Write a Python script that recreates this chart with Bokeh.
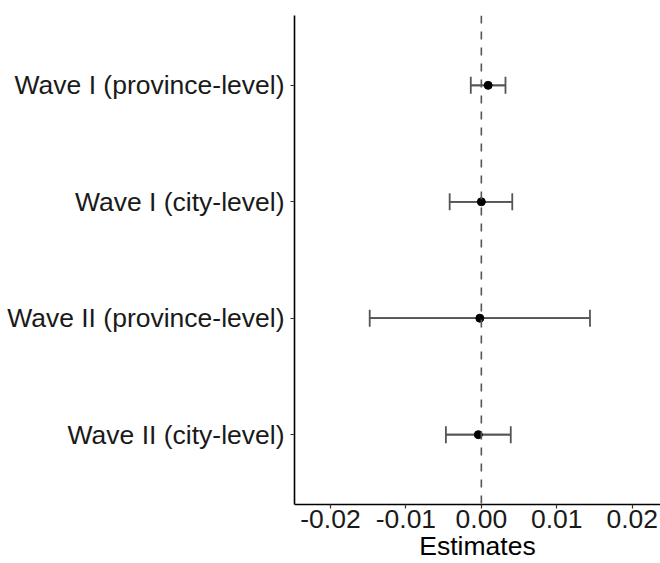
from bokeh.plotting import figure
from bokeh.models import FactorRange, Range1d, Span, FixedTicker, Whisker, ColumnDataSource, TeeHead, NumeralTickFormatter
from bokeh.embed import file_html
from bokeh.resources import INLINE

labels = ["Wave I (province-level)", "Wave I (city-level)",
          "Wave II (province-level)", "Wave II (city-level)"]
estimates = [0.0009, 0.0000, -0.0002, -0.0004]
lower = [-0.0014, -0.0042, -0.0148, -0.0047]
upper = [0.0032, 0.0041, 0.0144, 0.0039]
x_ticks = [-0.02, -0.01, 0.0, 0.01, 0.02]

src = ColumnDataSource(dict(label=labels, est=estimates, lower=lower, upper=upper))

FONT = "Liberation Sans"
GRAY = "#555555"

p = figure(width=660, height=563, output_backend="svg", toolbar_location=None,
           y_range=FactorRange(factors=labels[::-1], range_padding=0.1, range_padding_units="absolute"),
           x_range=Range1d(-0.02477, 0.02375),
           min_border_left=294, min_border_top=15, min_border_right=0, min_border_bottom=56)

p.outline_line_color = None
p.xgrid.visible = False
p.ygrid.visible = False
p.background_fill_color = "white"
p.border_fill_color = "white"

p.add_layout(Span(location=0, dimension="height", line_color=GRAY, line_width=1.6, line_dash="8 8"))

p.segment(x0="lower", y0="label", x1="upper", y1="label", source=src, line_color=GRAY, line_width=1.8)
w = Whisker(base="label", lower="lower", upper="upper", dimension="width", source=src,
            line_color=GRAY, line_width=1.8,
            upper_head=TeeHead(size=17, line_color=GRAY, line_width=1.8),
            lower_head=TeeHead(size=17, line_color=GRAY, line_width=1.8))
p.add_layout(w)
p.scatter(x="est", y="label", source=src, size=8, color="black")

p.xaxis.ticker = FixedTicker(ticks=x_ticks)
p.xaxis.formatter = NumeralTickFormatter(format="0.00")
p.xaxis.axis_label = "Estimates"

for ax in (p.xaxis[0], p.yaxis[0]):
    ax.axis_line_color = "black"
    ax.axis_line_width = 1.6
    ax.major_tick_line_color = "#333333"
    ax.major_tick_line_width = 1.2
    ax.major_tick_in = 0
    ax.major_tick_out = 4
    ax.minor_tick_line_color = None
    ax.major_label_text_font = FONT
    ax.major_label_text_font_size = "26.5px"
    ax.major_label_text_color = "#1a1a1a"
    ax.axis_label_text_font = FONT
    ax.axis_label_text_font_size = "26.5px"
    ax.axis_label_text_font_style = "normal"
    ax.axis_label_text_color = "black"

p.xaxis.major_label_standoff = 1
p.xaxis.axis_label_standoff = 0
p.yaxis.major_label_standoff = 6

open("out.html", "w").write(file_html(p, INLINE))
